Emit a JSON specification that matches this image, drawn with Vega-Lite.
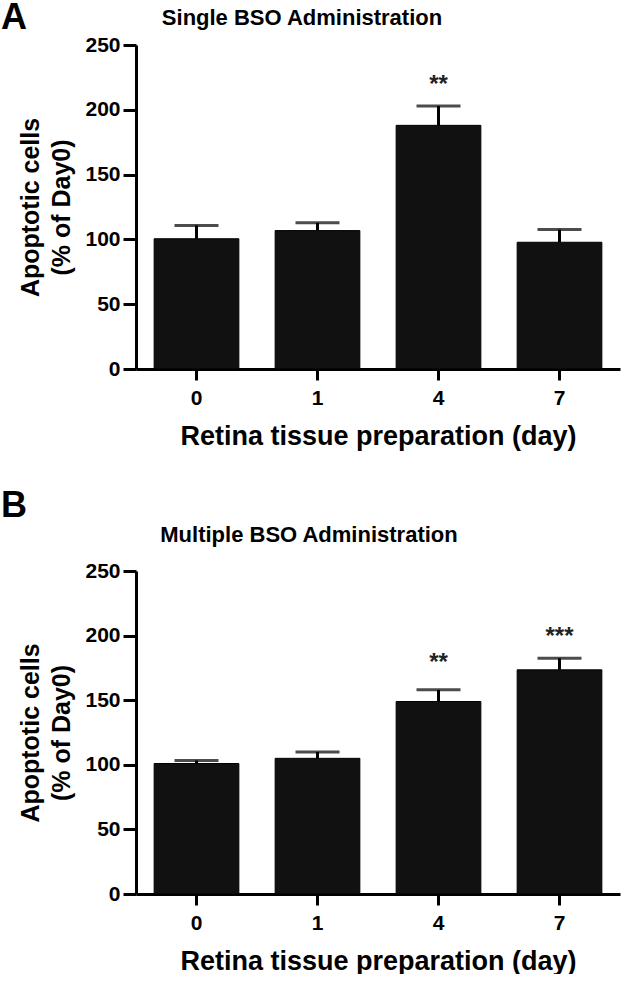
{
  "$schema": "https://vega.github.io/schema/vega-lite/v6.json",
  "background": "white",
  "padding": {"left": 0, "top": 0, "right": 4, "bottom": 0},
  "config": {
    "font": "Liberation Sans",
    "view": {"stroke": null},
    "axis": {
      "domainColor": "black", "domainWidth": 3, "tickColor": "black", "tickWidth": 3,
      "labelColor": "black", "labelFont": "Liberation Sans", "labelFontWeight": "bold", "labelFontSize": 21,
      "titleFont": "Liberation Sans", "titleFontWeight": "bold", "titleColor": "black", "grid": false
    },
    "axisY": {"tickSize": 13, "labelPadding": 3, "titleFontSize": 25, "titlePadding": 10, "titleLineHeight": 31},
    "axisX": {"tickSize": 11, "labelPadding": 7, "titleFontSize": 27, "labelAngle": 0, "titlePadding": 15},
    "title": {"font": "Liberation Sans", "fontWeight": "bold", "color": "black"}
  },
  "datasets": {
    "a": [
      {"day": "0", "mean": 100.5, "upper": 110.8, "star": null, "star_y": null},
      {"day": "1", "mean": 106.8, "upper": 112.8, "star": null, "star_y": null},
      {"day": "4", "mean": 188, "upper": 203, "star": "**", "star_y": 219},
      {"day": "7", "mean": 97.8, "upper": 107.6, "star": null, "star_y": null}
    ],
    "b": [
      {"day": "0", "mean": 101, "upper": 103.3, "star": null, "star_y": null},
      {"day": "1", "mean": 105, "upper": 110, "star": null, "star_y": null},
      {"day": "4", "mean": 149, "upper": 158, "star": "**", "star_y": 179},
      {"day": "7", "mean": 173.5, "upper": 182.5, "star": "***", "star_y": 199}
    ]
  },
  "spacing": 39,
  "vconcat": [
    {
      "title": {"text": "A", "anchor": "start", "frame": "bounds", "fontSize": 36, "offset": -30, "dx": -18},
      "vconcat": [
        {
          "title": {"text": "Single BSO Administration", "fontSize": 22, "dx": -76},
          "width": 484, "height": 324,
          "data": {"name": "a"},
          "encoding": {
            "x": {"field": "day", "type": "nominal", "sort": ["0", "1", "4", "7"],
                  "scale": {"paddingInner": 0.3, "paddingOuter": 0.15},
                  "axis": {"title": "Retina tissue preparation (day)"}}
          },
          "layer": [
            {"mark": {"type": "bar", "color": "#111111", "stroke": "black", "strokeWidth": 1},
             "encoding": {"y": {"field": "mean", "type": "quantitative",
                                "scale": {"domain": [0, 250], "nice": false},
                                "axis": {"values": [0, 50, 100, 150, 200, 250], "title": ["Apoptotic cells", "(% of Day0)"]}}}},
            {"mark": {"type": "rule", "color": "black", "strokeWidth": 3},
             "encoding": {"y": {"field": "mean", "type": "quantitative"}, "y2": {"field": "upper"}}},
            {"mark": {"type": "tick", "color": "black", "thickness": 3, "size": 44, "orient": "horizontal"},
             "encoding": {"y": {"field": "upper", "type": "quantitative"}}},
            {"transform": [{"filter": "datum.star != null"}],
             "mark": {"type": "text", "fontSize": 24, "fontWeight": "bold", "color": "#222222", "baseline": "middle"},
             "encoding": {"y": {"field": "star_y", "type": "quantitative"}, "text": {"field": "star"}}}
          ]
        }
      ]
    },
    {
      "title": {"text": "B", "anchor": "start", "frame": "bounds", "fontSize": 36, "offset": -1, "dx": -18},
      "vconcat": [
        {
          "title": {"text": "Multiple BSO Administration", "fontSize": 22, "dx": -69, "offset": 13},
          "width": 484, "height": 323,
          "data": {"name": "b"},
          "encoding": {
            "x": {"field": "day", "type": "nominal", "sort": ["0", "1", "4", "7"],
                  "scale": {"paddingInner": 0.3, "paddingOuter": 0.15},
                  "axis": {"title": "Retina tissue preparation (day)"}}
          },
          "layer": [
            {"mark": {"type": "bar", "color": "#111111", "stroke": "black", "strokeWidth": 1},
             "encoding": {"y": {"field": "mean", "type": "quantitative",
                                "scale": {"domain": [0, 250], "nice": false},
                                "axis": {"values": [0, 50, 100, 150, 200, 250], "title": ["Apoptotic cells", "(% of Day0)"]}}}},
            {"mark": {"type": "rule", "color": "black", "strokeWidth": 3},
             "encoding": {"y": {"field": "mean", "type": "quantitative"}, "y2": {"field": "upper"}}},
            {"mark": {"type": "tick", "color": "black", "thickness": 3, "size": 44, "orient": "horizontal"},
             "encoding": {"y": {"field": "upper", "type": "quantitative"}}},
            {"transform": [{"filter": "datum.star != null"}],
             "mark": {"type": "text", "fontSize": 24, "fontWeight": "bold", "color": "#222222", "baseline": "middle"},
             "encoding": {"y": {"field": "star_y", "type": "quantitative"}, "text": {"field": "star"}}}
          ]
        }
      ]
    }
  ]
}
